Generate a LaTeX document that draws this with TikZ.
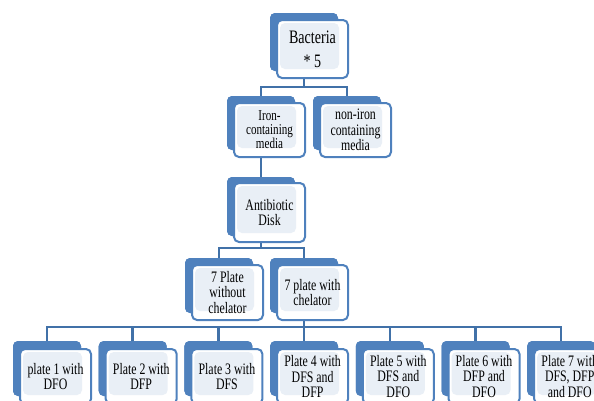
\documentclass[tikz,border=0pt]{standalone}
\usepackage{fontspec}
\setmainfont[FakeStretch=0.74]{Liberation Serif}
\usetikzlibrary{positioning,calc}
\definecolor{boxblue}{RGB}{79,129,189}
\definecolor{linkblue}{RGB}{65,113,168}
\definecolor{innerfill}{RGB}{233,239,246}

\tikzset{
  backbox/.style={fill=boxblue, rounded corners=5pt, minimum width=68pt, inner sep=0pt},
  frontbox/.style={draw=boxblue, line width=2pt, fill=white, rounded corners=5pt,
    minimum width=71pt, inner sep=0pt, align=center,
    font=\fontsize{16}{15.5}\selectfont,
    path picture={\fill[innerfill] ([shift={(3pt,-3pt)}]path picture bounding box.north west)
      rectangle ([shift={(-9pt,9pt)}]path picture bounding box.south east);}},
  link/.style={draw=linkblue, line width=2.5pt}
}

\begin{document}
\begin{tikzpicture}[x=1pt, y=-1pt]
    \useasboundingbox (0,0) rectangle (594,400);
    \clip (0,0) rectangle (594,400);

    % back boxes
    \node[backbox, minimum height=58pt] (bact) at (304,42) {};
    \node[backbox, minimum height=54pt] (iron) at (261,123) {};
    \node[backbox, minimum height=54pt] (noiron) at (347,123) {};
    \node[backbox, minimum height=59pt] (disk) at (261,206.5) {};
    \node[backbox, minimum height=55pt] (pwo) at (219,285.5) {};
    \node[backbox, minimum height=55pt] (pw) at (304,285.5) {};
    \foreach \i in {1,...,7}
        \node[backbox, minimum height=55pt] (p\i) at ({47+85.7*(\i-1)},368.5) {};

    % connectors
    \draw[link] (bact.south) -- ++(0,16) coordinate (hubA);
    \draw[link] (hubA) -| (iron.north);
    \draw[link] (hubA) -| (noiron.north);
    \draw[link] (iron.south) -- (disk.north);
    \draw[link] (disk.south) -- ++(0,12) coordinate (hubB);
    \draw[link] (hubB) -| (pwo.north);
    \draw[link] (hubB) -| (pw.north);
    \draw[link] (pw.south) -- ++(0,14) coordinate (hubC);
    \foreach \i in {1,...,7}
        \draw[link] (hubC) -| (p\i.north);

    % back boxes again over the connector ends
    \foreach \n/\h in {bact/58,iron/54,noiron/54,disk/59,pwo/55,pw/55,p1/55,p2/55,p3/55,p4/55,p5/55,p6/55,p7/55}
        \node[backbox, minimum height=\h pt] at (\n) {};

    % front boxes
    \node[frontbox, minimum height=58pt, font=\fontsize{19}{19}\selectfont] (bactf) at ($(bact)+(8.5,7)$)
        {Bacteria\\[5pt]* 5};
    \node[frontbox, minimum height=54pt, font=\fontsize{15}{14}\selectfont] (ironf) at ($(iron)+(8.5,7)$)
        {Iron-\\containing\\media};
    \node[frontbox, minimum height=54pt] (noironf) at ($(noiron)+(8.5,7)$)
        {non-iron\\containing\\media};
    \node[frontbox, minimum height=59pt] (diskf) at ($(disk)+(8.5,6)$)
        {Antibiotic\\Disk};
    \node[frontbox, minimum height=55pt] (pwof) at ($(pwo)+(8.5,7)$)
        {7 Plate\\without\\chelator};
    \node[frontbox, minimum height=55pt] (pwf) at ($(pw)+(8.5,7)$)
        {7 plate with\\chelator};
    \node[frontbox, minimum height=55pt] (p1f) at ($(p1)+(8.5,8)$) {plate 1 with\\DFO};
    \node[frontbox, minimum height=55pt] (p2f) at ($(p2)+(8.5,8)$) {Plate 2 with\\DFP};
    \node[frontbox, minimum height=55pt] (p3f) at ($(p3)+(8.5,8)$) {Plate 3 with\\DFS};
    \node[frontbox, minimum height=55pt] (p4f) at ($(p4)+(8.5,8)$) {Plate 4 with\\DFS and\\DFP};
    \node[frontbox, minimum height=55pt] (p5f) at ($(p5)+(8.5,8)$) {Plate 5 with\\DFS and\\DFO};
    \node[frontbox, minimum height=55pt] (p6f) at ($(p6)+(8.5,8)$) {Plate 6 with\\DFP and\\DFO};
    \node[frontbox, minimum height=55pt] (p7f) at ($(p7)+(8.5,8)$) {Plate 7 with\\DFS, DFP\\and DFO};
\end{tikzpicture}
\end{document}
